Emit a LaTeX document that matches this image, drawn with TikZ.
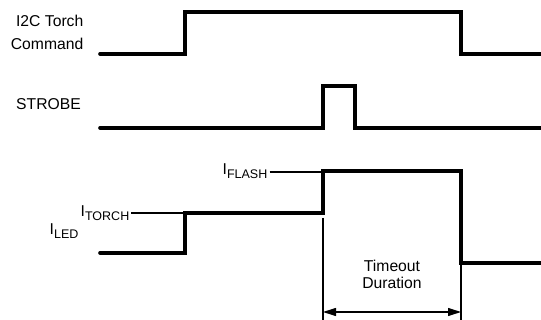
\documentclass[tikz,border=0pt]{standalone}
\usepackage{fontspec}
\setmainfont{Liberation Sans}
\usetikzlibrary{arrows.meta}
\newcommand{\subtxt}[1]{\raisebox{-4pt}{\fontsize{12.5}{14}\selectfont #1}}
\begin{document}
\begin{tikzpicture}[x=1pt,y=-1pt,
  wave/.style={line width=3.6pt,line join=miter,line cap=round},
  thin/.style={line width=1.1pt},
  lbl/.style={inner sep=0pt,font=\fontsize{15.7}{17}\selectfont},
  dim/.style={line width=1.1pt,{Triangle[length=13pt,width=8pt]}-{Triangle[length=13pt,width=8pt]}}]
\useasboundingbox (0,0) rectangle (541,320);
% labels
\node[lbl,align=right,anchor=north east,font=\fontsize{15.7}{23}\selectfont] (cmd) at (83.5,15) {I2C Torch\\Command};
\node[lbl,anchor=base east] (strobe) at (81,110) {STROBE};
\node[lbl,anchor=base west] (iled) at (49.5,235) {I\subtxt{LED}};
\node[lbl,anchor=base west,inner xsep=2pt] (itorch) at (78.5,217) {I\subtxt{TORCH}};
\node[lbl,anchor=base west,inner xsep=2pt] (iflash) at (220.5,175) {I\subtxt{FLASH}};
\node[lbl,align=center,anchor=base] (tout) at (392,289) {Timeout\\Duration};
% waveforms
\draw[wave] (100,54) -- (185,54) -- (185,12) -- (461,12) -- (461,54) -- (545,54);
\draw[wave] (100,128) -- (323,128) -- (323,86) -- (355,86) -- (355,128) -- (545,128);
\draw[wave] (100,253) -- (185,253) -- (185,213) -- (323,213) -- (323,171) -- (461,171) -- (461,263) -- (545,263);
% reference points
\coordinate (torchpt) at (185,213);
\coordinate (flashpt) at (323,172);
\coordinate (aL) at (323,218);
\coordinate (aR) at (461,265);
\coordinate (bL) at (323,325);
\coordinate (bR) at (461,325);
\coordinate (dL) at (323,312);
\coordinate (dR) at (461,312);
\draw[thin] (itorch.east |- torchpt) -- (torchpt);
\draw[thin] (iflash.east |- flashpt) -- (flashpt);
\draw[thin] (aL) -- (bL);
\draw[thin] (aR) -- (bR);
\draw[dim] (dL) -- (dR);
\end{tikzpicture}
\end{document}
